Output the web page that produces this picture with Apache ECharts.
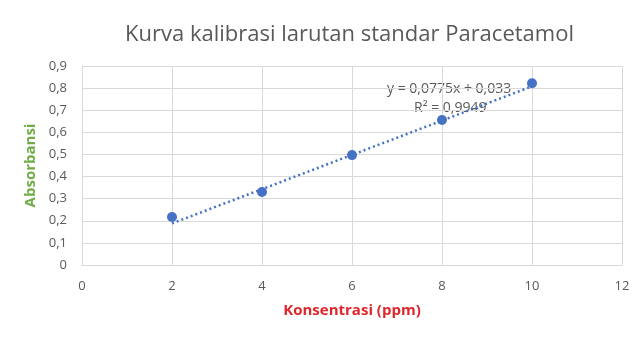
<!DOCTYPE html>
<html>
<head>
    <meta charset="utf-8">
    <title>Kurva kalibrasi</title>
    <script src="https://cdn.jsdelivr.net/npm/echarts@6/dist/echarts.min.js"></script>
    <style>
        html, body { margin: 0; padding: 0; background: #ffffff; }
        #chart { width: 642px; height: 339px; }
    </style>
</head>
<body>
<div id="chart"></div>
<script>
// data
var konsentrasi = [2, 4, 6, 8, 10];
var absorbansi = [0.217, 0.330, 0.497, 0.656, 0.822];
var slope = 0.0775;
var intercept = 0.033;
var eqText = 'y = 0,0775x + 0,033';
var r2Text = 'R² = 0,9949';

var points = konsentrasi.map(function (x, i) { return [x, absorbansi[i]]; });
var xs = [konsentrasi[0], konsentrasi[konsentrasi.length - 1]];
var trend = xs.map(function (x) { return [x, +(slope * x + intercept).toFixed(4)]; });

function koma(v) { return String(v).replace('.', ','); }

var chart = echarts.init(document.getElementById('chart'));
var font = 'Open Sans';
chart.setOption({
    animation: false,
    title: {
        text: 'Kurva kalibrasi larutan standar Paracetamol',
        left: 120, top: 19,
        textStyle: { fontFamily: font, fontSize: 22, fontWeight: 'normal', color: '#595959' }
    },
    grid: { left: 82, right: 20, top: 66, bottom: 74 },
    xAxis: {
        type: 'value', min: 0, max: 12, interval: 2,
        name: 'Konsentrasi (ppm)', nameLocation: 'middle', nameGap: 38,
        nameTextStyle: { fontFamily: font, fontSize: 15, fontWeight: 'bold', color: '#e0262b' },
        axisLine: { lineStyle: { color: '#d9d9d9' } },
        axisTick: { show: false },
        axisLabel: { fontFamily: font, fontSize: 13, color: '#595959', margin: 15 },
        splitLine: { show: true, lineStyle: { color: '#d9d9d9' } }
    },
    yAxis: {
        type: 'value', min: 0, max: 0.9, interval: 0.1,
        name: 'Absorbansi', nameLocation: 'middle', nameGap: 43,
        nameTextStyle: { fontFamily: font, fontSize: 15, fontWeight: 'bold', color: '#70ad47' },
        axisLine: { show: true, lineStyle: { color: '#d9d9d9' } },
        axisTick: { show: false },
        axisLabel: { fontFamily: font, fontSize: 13, color: '#595959', margin: 15,
            formatter: function (v) { return koma(Math.round(v * 10) / 10); } },
        splitLine: { lineStyle: { color: '#d9d9d9' } }
    },
    series: [
        {
            type: 'line', data: trend, symbol: 'none',
            lineStyle: { color: '#4472c4', width: 2.5, type: [2, 3] },
            z: 2
        },
        {
            type: 'scatter', data: points, symbolSize: 10,
            itemStyle: { color: '#4472c4', opacity: 1 }, z: 3
        }
    ],
    graphic: [
        { type: 'text', left: 387, top: 82,
          style: { text: eqText, fontFamily: font, fontSize: 14, fill: '#595959' } },
        { type: 'text', left: 414, top: 101,
          style: { text: r2Text, fontFamily: font, fontSize: 14, fill: '#595959' } }
    ]
});
</script>
</body>
</html>
